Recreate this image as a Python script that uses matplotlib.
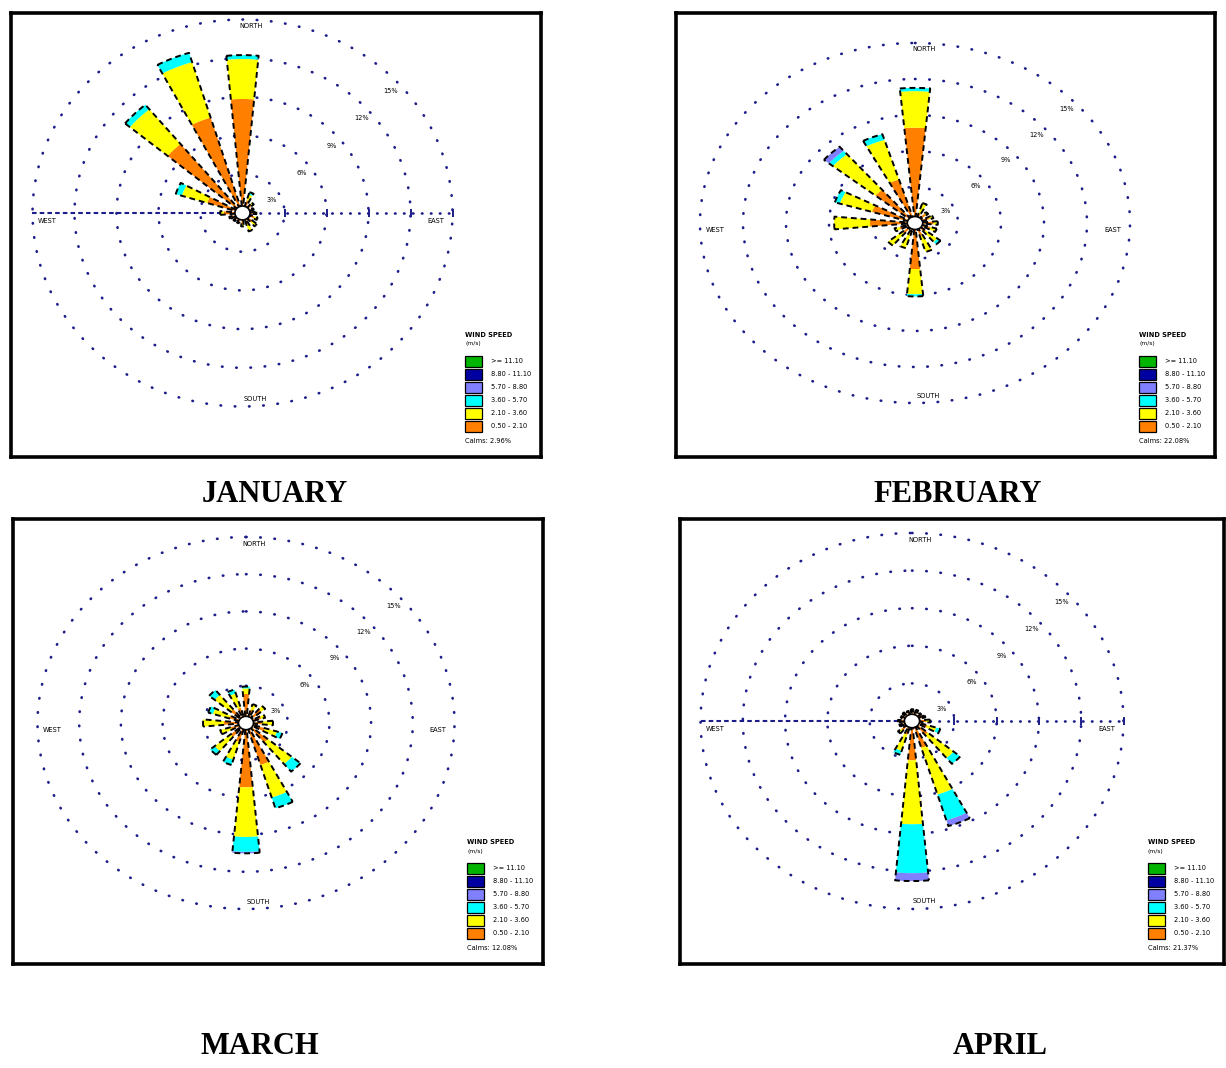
import numpy as np
import matplotlib.pyplot as plt
from matplotlib.patches import Rectangle

# 16 compass sectors, clockwise from north
directions = ["N", "NNE", "NE", "ENE", "E", "ESE", "SE", "SSE",
              "S", "SSW", "SW", "WSW", "W", "WNW", "NW", "NNW"]
dir_angles = np.arange(16) * 22.5

speed_classes = [">= 11.10", "8.80 - 11.10", "5.70 - 8.80",
                 "3.60 - 5.70", "2.10 - 3.60", "0.50 - 2.10"]
class_colors = ["#00b400", "#0000a0", "#8080ff", "#00ffff", "#ffff00", "#ff8000"]

ring_labels = ["3%", "6%", "9%", "12%", "15%"]
ring_step = 3.0  # percent per ring

# frequency (%) per sector; columns: 0.5-2.1, 2.1-3.6, 3.6-5.7, 5.7-8.8 m/s
jan_freq = [
    [8.3, 3.1, 0.3, 0], [0.5, 0.45, 0.2, 0], [0.35, 0.15, 0, 0], [0.3, 0, 0, 0],
    [0.3, 0.15, 0, 0], [0.35, 0.25, 0, 0], [0.4, 0.4, 0, 0], [0.4, 0.55, 0, 0],
    [0.3, 0.2, 0, 0], [0.3, 0, 0, 0], [0.3, 0, 0, 0], [0.35, 0.1, 0, 0],
    [0.8, 0.25, 0, 0], [2.1, 1.9, 0.45, 0], [6.4, 3.5, 0.45, 0], [7.2, 4.5, 0.75, 0],
]
feb_freq = [
    [7.4, 3.05, 0.27, 0], [0.3, 0.9, 0, 0], [0.45, 0.2, 0, 0], [0.5, 0.3, 0, 0],
    [0.75, 0.3, 0, 0], [0.6, 0.45, 0, 0], [0.45, 1.05, 0.27, 0], [0.6, 1.38, 0, 0],
    [3.3, 2.1, 0.18, 0], [0.45, 1.2, 0, 0], [0.6, 1.3, 0, 0], [0.6, 0.35, 0, 0],
    [2.6, 2.5, 0, 0], [2.6, 2.35, 0.36, 0], [3.05, 3.85, 0.36, 0.45], [3.25, 3.45, 0.5, 0],
]
mar_freq = [
    [1.8, 0.45, 0.15, 0], [0.6, 0.45, 0, 0], [0.9, 0.35, 0, 0], [0.6, 0.3, 0, 0],
    [0.6, 0.8, 0, 0], [0.9, 0.9, 0.4, 0], [1.5, 2.25, 0.8, 0], [3.0, 2.75, 0.9, 0],
    [4.65, 4.0, 1.2, 0.12], [1.05, 1.5, 0.45, 0], [0.9, 1.5, 0.4, 0], [0.6, 0.8, 0, 0],
    [1.05, 1.5, 0, 0], [0.75, 1.2, 0.36, 0], [0.9, 1.5, 0.5, 0], [0.75, 1.2, 0.33, 0],
]
apr_freq = [
    [0.4, 0, 0, 0], [0.4, 0, 0, 0], [0.3, 0, 0, 0], [0.3, 0.15, 0, 0],
    [0.45, 0.3, 0, 0], [0.6, 0.66, 0.3, 0], [0.9, 2.4, 0.6, 0], [1.7, 3.9, 2.15, 0.48],
    [2.6, 5.1, 3.9, 0.63], [0.6, 1.35, 0.33, 0], [0.45, 0.3, 0, 0], [0.4, 0, 0, 0],
    [0.45, 0, 0, 0], [0.3, 0, 0, 0], [0.35, 0, 0, 0], [0.3, 0, 0, 0],
]

months = ["JANUARY", "FEBRUARY", "MARCH", "APRIL"]
calms_text = ["Calms: 2.96%", "Calms: 22.08%", "Calms: 12.08%", "Calms: 21.37%"]

W, H = 1226, 1068
NAVY = "#1c1c8a"
R0 = 0.18  # calm circle radius, in rings
HALF = 5.4  # half width of a petal, degrees

fig = plt.figure(figsize=(W / 100, H / 100), dpi=100)


def wedge(theta, r_in, r_out):
    t = np.radians(np.linspace(theta - HALF, theta + HALF, 10))
    x = np.r_[r_out * np.sin(t), r_in * np.sin(t[::-1])]
    y = np.r_[r_out * np.cos(t), r_in * np.cos(t[::-1])]
    return x, y


def draw_rose(frame, centre, step, freq, title, title_pos, axis_line, calms):
    left, top, right, bottom = frame
    cx, cy = centre
    sx, sy = step
    ax = fig.add_axes([left / W, 1 - bottom / H, (right - left) / W, (bottom - top) / H])
    ax.set_xlim((left - cx) / sx, (right - cx) / sx)
    ax.set_ylim((cy - bottom) / sy, (cy - top) / sy)
    ax.set_xticks([])
    ax.set_yticks([])
    for sp in ax.spines.values():
        sp.set_linewidth(2.6)
        sp.set_color("black")

    t = np.linspace(0, 2 * np.pi, 500)
    for k in range(1, 6):
        ax.plot(k * np.sin(t), k * np.cos(t), color=NAVY, lw=1.9,
                linestyle=(0, (0.2, 5.2)), dash_capstyle="round", zorder=1)

    if axis_line:
        ax.plot([-5, 0], [0, 0], color=NAVY, lw=1.5, linestyle=(0, (2.2, 1.5)), zorder=1)
        ax.plot([0, 5], [0, 0], color=NAVY, lw=1.9, linestyle=(0, (0.2, 3.2)),
                dash_capstyle="round", zorder=1)
        ax.plot(np.arange(1, 6), np.zeros(5), ls="none", marker="|", ms=6,
                mew=1.4, color=NAVY, zorder=1)

    # stacked petals
    for ang, row in zip(dir_angles, freq):
        r = R0
        for val, col in zip(row, class_colors[::-1]):
            if val <= 0:
                continue
            r_out = r + val / ring_step
            x, y = wedge(ang, r, r_out)
            ax.fill(x, y, color=col, lw=0, zorder=3)
            r = r_out
        x, y = wedge(ang, R0, r)
        ax.plot(np.r_[x, x[0]], np.r_[y, y[0]], color="black", lw=1.4,
                linestyle=(0, (3.0, 2.0)), zorder=4)
    calm = plt.Circle((0, 0), R0, facecolor="white", edgecolor="black", lw=1.2, zorder=5)
    ax.add_patch(calm)

    # compass and ring labels
    fs = 4.8
    ax.text(0.2, 4.82, "NORTH", fontsize=fs, ha="center", va="center", zorder=6)
    ax.text(0.3, -4.8, "SOUTH", fontsize=fs, ha="center", va="center", zorder=6)
    ax.text(-4.65, -0.2, "WEST", fontsize=fs, ha="center", va="center", zorder=6)
    ax.text(4.6, -0.2, "EAST", fontsize=fs, ha="center", va="center", zorder=6)
    for k, lab in enumerate(ring_labels, start=1):
        ax.text(k * 0.707, k * 0.707 - 0.38, lab, fontsize=fs, ha="center",
                va="center", zorder=6)

    # legend, placed from the frame's lower right corner in pixels
    fw, fh = right - left, bottom - top

    def ax_xy(dx, dy):
        return 1 - dx / fw, dy / fh

    tx, ty = ax_xy(76, 122)
    ax.text(tx, ty, "WIND SPEED", transform=ax.transAxes, fontsize=fs,
            fontweight="bold", va="center")
    tx, ty = ax_xy(76, 113)
    ax.text(tx, ty, "(m/s)", transform=ax.transAxes, fontsize=fs - 0.5, va="center")
    for i, (lab, col) in enumerate(zip(speed_classes, class_colors)):
        yc = 96 - 13 * i
        bx, by = ax_xy(76, yc - 5.5)
        ax.add_patch(Rectangle((bx, by), 17 / fw, 11 / fh, transform=ax.transAxes,
                               facecolor=col, edgecolor="black", lw=0.9, zorder=6))
        lx, ly = ax_xy(50, yc)
        ax.text(lx, ly, lab, transform=ax.transAxes, fontsize=fs, va="center")
    cxa, cya = ax_xy(76, 16)
    ax.text(cxa, cya, calms, transform=ax.transAxes, fontsize=fs, va="center")

    fig.text(title_pos[0] / W, 1 - title_pos[1] / H, title, ha="center", va="center",
             fontsize=22, fontweight="bold", family="Liberation Serif")


draw_rose((11, 13, 541, 457), (242.5, 213), (42, 38.7), jan_freq, months[0],
          (275, 494), True, calms_text[0])
draw_rose((676, 13, 1215, 457), (915, 223), (43, 36), feb_freq, months[1],
          (958, 494), False, calms_text[1])
draw_rose((13, 519, 543, 964), (246, 723), (41.7, 37.2), mar_freq, months[2],
          (260, 1046), False, calms_text[2])
draw_rose((680, 519, 1224, 964), (912, 721), (42.3, 37.6), apr_freq, months[3],
          (1000, 1046), True, calms_text[3])

plt.savefig("out.png", dpi=100)
plt.close(fig)
